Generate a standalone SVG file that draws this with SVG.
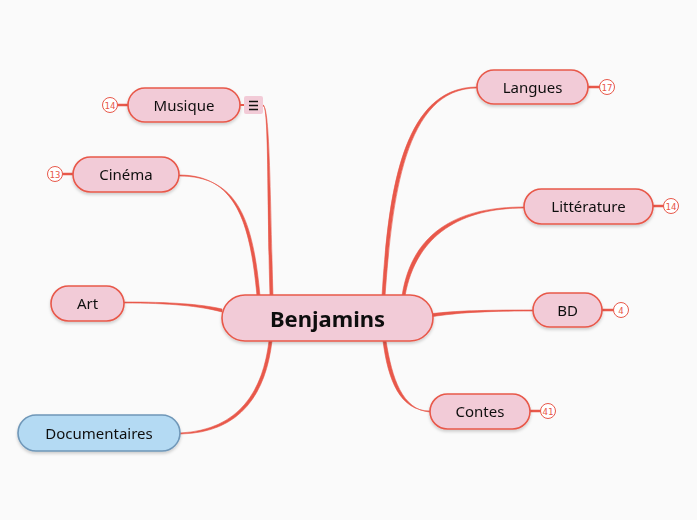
<svg xmlns="http://www.w3.org/2000/svg" width="697" height="520" viewBox="0 0 697 520">
<defs>
<filter id="sh" x="-10%" y="-20%" width="120%" height="150%"><feDropShadow dx="0" dy="2" stdDeviation="1.5" flood-color="#000" flood-opacity="0.18"/></filter>
<style>
.n rect{fill:#f2cbd7;stroke:#e8584a;stroke-width:1.6}
.n text{font-family:"Noto Sans",sans-serif;font-size:15px;fill:#111;text-anchor:middle;dominant-baseline:central}
.doc rect{fill:#b4daf3;stroke:#6f97b8}
.b circle{fill:#fff;stroke:#e8584a;stroke-width:1}
.b text{font-family:"DejaVu Sans Mono",monospace;font-size:9px;fill:#e8584a;text-anchor:middle;dominant-baseline:central}
.b line{stroke:#e8584a;stroke-width:2.5}
#connectors path{fill:#e8584a;stroke:#e8584a;stroke-width:0.6}
</style>
</defs>
<rect width="697" height="520" fill="#fafafa"/>
<g id="connectors">
<path d="M263,105 C269,105 267,200 270,296 L273,296 C270,200 270,105 263,106 Z"/>
<path d="M179,175 C235,175 250,220 257,296 L260,296 C253,220 238,176 179,176 Z"/>
<path d="M124,302 C170,302 200,304 222,309 L222,312 C200,306 170,303 124,303 Z"/>
<path d="M180,433 C240,430 263,390 269,341 L272,341 C266,392 242,433 180,434 Z"/>
<path d="M477,87 C400,87 388,200 382,296 L385,296 C392,200 404,88 477,88 Z"/>
<path d="M524,207 C460,207 412,230 402,296 L405,296 C416,234 462,208 524,208 Z"/>
<path d="M533,310 C480,310 455,311 433,313.5 L433,316.5 C457,313 480,311 533,311 Z"/>
<path d="M430,411 C400,411 388,380 383,341 L386,341 C392,378 402,410 430,412 Z"/>
</g>
<g id="center" class="n" filter="url(#sh)"><rect x="222" y="295" width="211" height="46" rx="23"/><text x="327.5" y="318" style="font-size:22px;font-weight:bold">Benjamins</text></g>
<g id="musique">
<g class="b"><line x1="117" y1="105" x2="128" y2="105"/><circle cx="110" cy="105" r="7.5"/><text x="110" y="105.5">14</text></g>
<g class="n" filter="url(#sh)"><rect x="128" y="88" width="112" height="34" rx="17"/><text x="184" y="104.5">Musique</text></g>
<rect x="240" y="104" width="5" height="2" fill="#e8584a"/>
<rect x="244" y="96" width="19" height="18" rx="2" fill="#f2cbd7"/>
<path d="M249,101.5h9M249,105.5h9M249,109.5h9" stroke="#111" stroke-width="1.4"/>
</g>
<g id="cinema">
<g class="b"><line x1="62" y1="174" x2="73" y2="174"/><circle cx="55" cy="174" r="7.5"/><text x="55" y="174.5">13</text></g>
<g class="n" filter="url(#sh)"><rect x="73" y="157" width="106" height="35" rx="17.5"/><text x="126" y="174">Cinéma</text></g>
</g>
<g id="art" class="n" filter="url(#sh)"><rect x="51" y="286" width="73" height="35" rx="17.5"/><text x="87.5" y="303">Art</text></g>
<g id="documentaires" class="n doc" filter="url(#sh)"><rect x="18" y="415" width="162" height="36" rx="18"/><text x="99" y="432.5">Documentaires</text></g>
<g id="langues">
<g class="b"><line x1="588" y1="87" x2="600" y2="87"/><circle cx="607" cy="87" r="7.5"/><text x="607" y="87.5">17</text></g>
<g class="n" filter="url(#sh)"><rect x="477" y="70" width="111" height="34" rx="17"/><text x="532.5" y="86.5">Langues</text></g>
</g>
<g id="litterature">
<g class="b"><line x1="653" y1="206" x2="664" y2="206"/><circle cx="671" cy="206" r="7.5"/><text x="671" y="206.5">14</text></g>
<g class="n" filter="url(#sh)"><rect x="524" y="189" width="129" height="35" rx="17.5"/><text x="588.5" y="206">Littérature</text></g>
</g>
<g id="bd">
<g class="b"><line x1="602" y1="310" x2="614" y2="310"/><circle cx="621" cy="310" r="7.5"/><text x="621" y="310.5">4</text></g>
<g class="n" filter="url(#sh)"><rect x="533" y="293" width="69" height="34" rx="17"/><text x="567.5" y="309.5">BD</text></g>
</g>
<g id="contes">
<g class="b"><line x1="530" y1="411" x2="541" y2="411"/><circle cx="548" cy="411" r="7.5"/><text x="548" y="411.5">41</text></g>
<g class="n" filter="url(#sh)"><rect x="430" y="394" width="100" height="35" rx="17.5"/><text x="480" y="411">Contes</text></g>
</g>
</svg>
